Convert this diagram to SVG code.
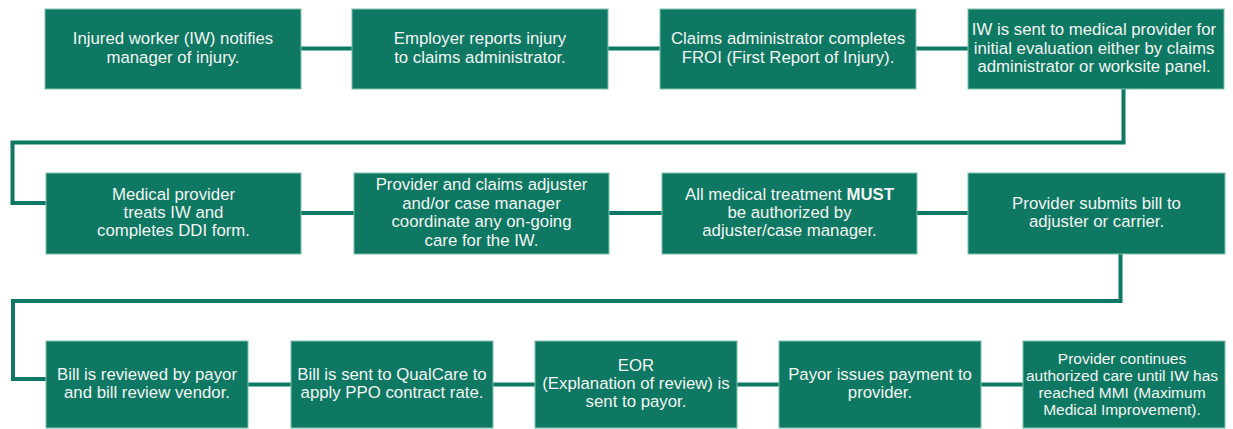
<svg xmlns="http://www.w3.org/2000/svg" width="1233" height="429" viewBox="0 0 1233 429">
<style>
  .box { fill: #0e7862; stroke: #7fc2ae; stroke-width: 1; }
  .lbl { font-family: "Liberation Sans", Arial, sans-serif; font-size: 16.8px; fill: #f3f5f3; text-anchor: middle; }
  .sm { font-size: 15.5px; }
  .conn { fill: none; stroke: #0e7862; stroke-width: 4; }
</style>
<rect width="1233" height="429" fill="#ffffff"/>
<g id="connectors">
  <path class="conn" d="M301 48.5 H352"/>
  <path class="conn" d="M608 48.5 H660"/>
  <path class="conn" d="M916 48.5 H968"/>
  <path class="conn" d="M1123.5 89 V142.5 H12.5 V203 H46"/>
  <path class="conn" d="M301 213 H354"/>
  <path class="conn" d="M609 213 H662"/>
  <path class="conn" d="M917 213 H968"/>
  <path class="conn" d="M1120.5 254 V301 H13 V379 H46"/>
  <path class="conn" d="M248 384.5 H291"/>
  <path class="conn" d="M493 384.5 H535"/>
  <path class="conn" d="M737 384.5 H779"/>
  <path class="conn" d="M981 384.5 H1023"/>
</g>
<g id="n1"><rect class="box" x="45" y="9" width="256" height="80"/>
  <text class="lbl" x="173" y="44.3">Injured worker (IW) notifies</text>
  <text class="lbl" x="173" y="62.7">manager of injury.</text></g>
<g id="n2"><rect class="box" x="352" y="9" width="256" height="80"/>
  <text class="lbl" x="480" y="44.3">Employer reports injury</text>
  <text class="lbl" x="480" y="62.7">to claims administrator.</text></g>
<g id="n3"><rect class="box" x="660" y="9" width="256" height="80"/>
  <text class="lbl" x="788" y="44.3">Claims administrator completes</text>
  <text class="lbl" x="788" y="62.7">FROI (First Report of Injury).</text></g>
<g id="n4"><rect class="box" x="968" y="9" width="256" height="80"/>
  <text class="lbl" x="1094" y="35.1">IW is sent to medical provider for</text>
  <text class="lbl" x="1094" y="53.5">initial evaluation either by claims</text>
  <text class="lbl" x="1094" y="71.9">administrator or worksite panel.</text></g>
<g id="n5"><rect class="box" x="46" y="173" width="255" height="81"/>
  <text class="lbl" x="173.5" y="199.6">Medical provider</text>
  <text class="lbl" x="173.5" y="218">treats IW and</text>
  <text class="lbl" x="173.5" y="236.4">completes DDI form.</text></g>
<g id="n6"><rect class="box" x="354" y="173" width="255" height="81"/>
  <text class="lbl" x="481.5" y="190.4">Provider and claims adjuster</text>
  <text class="lbl" x="481.5" y="208.8">and/or case manager</text>
  <text class="lbl" x="481.5" y="227.2">coordinate any on-going</text>
  <text class="lbl" x="481.5" y="245.6">care for the IW.</text></g>
<g id="n7"><rect class="box" x="662" y="173" width="255" height="81"/>
  <text class="lbl" x="789.5" y="199.6">All medical treatment <tspan font-weight="bold">MUST</tspan></text>
  <text class="lbl" x="789.5" y="218">be authorized by</text>
  <text class="lbl" x="789.5" y="236.4">adjuster/case manager.</text></g>
<g id="n8"><rect class="box" x="968" y="173" width="257" height="81"/>
  <text class="lbl" x="1096.5" y="208.8">Provider submits bill to</text>
  <text class="lbl" x="1096.5" y="227.2">adjuster or carrier.</text></g>
<g id="n9"><rect class="box" x="46" y="341" width="202" height="87"/>
  <text class="lbl" x="147" y="379.8">Bill is reviewed by payor</text>
  <text class="lbl" x="147" y="398.2">and bill review vendor.</text></g>
<g id="n10"><rect class="box" x="291" y="341" width="202" height="87"/>
  <text class="lbl" x="392" y="379.8">Bill is sent to QualCare to</text>
  <text class="lbl" x="392" y="398.2">apply PPO contract rate.</text></g>
<g id="n11"><rect class="box" x="535" y="341" width="202" height="87"/>
  <text class="lbl" x="636" y="370.6">EOR</text>
  <text class="lbl" x="636" y="389">(Explanation of review) is</text>
  <text class="lbl" x="636" y="407.4">sent to payor.</text></g>
<g id="n12"><rect class="box" x="779" y="341" width="202" height="87"/>
  <text class="lbl" x="880" y="379.8">Payor issues payment to</text>
  <text class="lbl" x="880" y="398.2">provider.</text></g>
<g id="n13"><rect class="box" x="1023" y="341" width="202" height="87"/>
  <text class="lbl sm" x="1122" y="363.5">Provider continues</text>
  <text class="lbl sm" x="1122" y="380.5">authorized care until IW has</text>
  <text class="lbl sm" x="1122" y="397.5">reached MMI (Maximum</text>
  <text class="lbl sm" x="1122" y="414.5">Medical Improvement).</text></g>
</svg>
